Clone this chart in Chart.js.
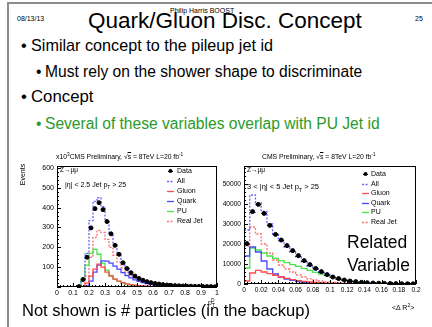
<!DOCTYPE html>
<html><head><meta charset="utf-8">
<script src="https://cdn.jsdelivr.net/npm/chart.js@4.4.1/dist/chart.umd.min.js"></script>
<style>
html,body{margin:0;padding:0;background:#fff}
body{width:432px;height:327px;position:relative;overflow:hidden;font-family:"Liberation Sans",Arial,sans-serif;color:#000}
.t{position:absolute;white-space:nowrap;line-height:1}
#frame{position:absolute;left:7px;top:2px;width:440px;height:340px;border-left:2px solid #8c8c8c;border-top:2px solid #8c8c8c}
canvas{position:absolute}
sub,sup{font-size:70%;line-height:0}
</style></head><body>
<div id="frame"></div>
<canvas id="cL" width="228" height="165" style="left:0px;top:150px;width:228px;height:165px"></canvas>
<canvas id="cR" width="217" height="165" style="left:215px;top:150px;width:217px;height:165px"></canvas>
<script>
// ---------------- data ----------------
const leftLabels = ["Data", "All", "Gluon", "Quark", "PU", "Real Jet"];
const leftBinStart = 0, leftBinWidth = 0.025;
const leftData    = [null,null,null,null,null,2,38,150,298,395,425,390,330,268,210,165,122,93,72,55,43,34,27,22,18,15,12,10,8,7,6,5,4,4,3,3,2,2,2,1];
const leftAll     = [0,0,0,0,0,2,35,170,335,432,450,405,335,270,212,162,122,92,70,53,41,32,25,20,16,13,11,9,7,6,5,4,3,3,2,2,2,1,1,1];
const leftGluon   = [0,0,0,0,0,0,2,20,55,90,115,100,75,55,40,30,22,16,12,9,7,5,4,3,2,2,1,1,1,0,0,0,0,0,0,0,0,0,0,0];
const leftQuark   = [0,0,0,0,0,0,0,5,30,75,110,132,130,120,105,90,72,58,46,36,28,22,17,13,10,8,6,5,4,3,3,2,2,1,1,1,1,0,0,0];
const leftPU      = [0,0,0,0,0,2,35,110,170,190,165,120,85,58,40,28,20,14,10,7,5,4,3,2,2,1,1,1,0,0,0,0,0,0,0,0,0,0,0,0];
const leftRealJet = [0,0,0,0,0,0,8,55,150,250,285,275,240,200,160,125,97,75,58,45,35,28,22,18,14,12,10,8,7,6,5,4,3,3,2,2,2,1,1,1];

const rightBinStart = 0, rightBinWidth = 0.2/30;
const rightData    = [20200,36200,39800,35300,29300,24800,22000,19200,16700,14200,11700,9700,7800,6200,4700,3500,2700,2000,1500,1200,850,650,500,400,300,250,200,150,120,100];
const rightAll     = [27000,44500,40500,36300,30000,25000,21500,18500,15800,13300,11000,9000,7300,5800,4500,3400,2600,2000,1500,1100,850,650,500,400,300,250,200,150,120,100];
const rightGluon   = [1500,5500,6800,6000,5200,4300,3500,2800,2200,1700,1300,1000,800,600,450,350,250,200,150,100,80,60,40,30,20,15,10,10,5,5];
const rightQuark   = [14000,18500,16000,11500,7500,5000,3500,2500,1800,1200,800,600,400,300,200,150,100,80,60,40,30,20,15,10,10,5,5,0,0,0];
const rightPU      = [8000,18000,17000,15500,14000,12800,11700,10700,9700,8800,7800,6800,5800,5000,4200,3400,2700,2100,1600,1200,900,700,500,380,280,200,150,110,80,60];
const rightRealJet = [19000,28500,25000,20000,15500,12000,9500,7500,6000,4500,3500,2600,2000,1500,1100,800,600,450,350,250,200,150,100,80,60,50,40,30,20,20];

const leftXTicks = [0,0.1,0.2,0.3,0.4,0.5,0.6,0.7,0.8,0.9,1];
const leftYTicks = [100,200,300,400,500,600];
const rightXTicks = [0,0.02,0.04,0.06,0.08,0.1,0.12,0.14,0.16,0.18,0.2];
const rightYTicks = [0,10000,20000,30000,40000,50000];

// ---------------- helpers ----------------
function histPts(start, w, vals){
  const p = vals.map((v,i)=>({x:start+i*w, y:v}));
  p.push({x:start+vals.length*w, y:vals[vals.length-1]});
  return p;
}
function ctrPts(start, w, vals){ return vals.map((v,i)=>({x:start+(i+0.5)*w, y:v})); }

const COL = {all:'#6464ff', gluon:'#ff4b4b', quark:'#4848ff', pu:'#48e448', real:'#ff6e6e'};

function makeDatasets(labels, start, w, d, all, gl, qk, pu, rj){
  const line = (lab, vals, c, dash) => ({label:lab, data:histPts(start,w,vals), borderColor:c, borderWidth:1.3,
     borderDash:dash||[], stepped:true, pointRadius:0, fill:false, order:1});
  return [
    {label:labels[0], data:ctrPts(start,w,d), showLine:false, pointRadius:2, pointBackgroundColor:'#000',
     pointBorderColor:'#000', borderColor:'#000', isData:true, halfW:w/2, order:0},
    line(labels[1], all, COL.all, [2,1.5]),
    line(labels[2], gl, COL.gluon),
    line(labels[3], qk, COL.quark),
    line(labels[4], pu, COL.pu),
    line(labels[5], rj, COL.real, [2,1.5])
  ];
}

const rootPlugin = {
  id:'rootStyle',
  afterDatasetsDraw(chart, args, o){
    const {ctx, chartArea:a, scales:{x,y}} = chart;
    ctx.save();
    chart.data.datasets.forEach((ds,i)=>{
      if(!ds.isData) return;
      ctx.strokeStyle='#000'; ctx.lineWidth=1;
      ds.data.forEach(p=>{
        if(p.y==null) return;
        const py = Math.round(y.getPixelForValue(p.y))+0.5;
        ctx.beginPath();
        ctx.moveTo(x.getPixelForValue(p.x-ds.halfW), py);
        ctx.lineTo(x.getPixelForValue(p.x+ds.halfW), py);
        ctx.stroke();
      });
    });
    ctx.strokeStyle='#000'; ctx.lineWidth=1;
    ctx.strokeRect(a.left+0.5, a.top+0.5, a.right-a.left-1, a.bottom-a.top-1);
    ctx.beginPath();
    for(let v=x.min; v<=x.max+1e-9; v+=o.xMinor){
      const major = Math.abs(v/o.xMajor-Math.round(v/o.xMajor))<1e-6;
      const px = Math.round(x.getPixelForValue(v))+0.5;
      ctx.moveTo(px, a.bottom); ctx.lineTo(px, a.bottom-(major?4:2));
    }
    for(let v=y.min; v<=y.max+1e-9; v+=o.yMinor){
      const major = Math.abs(v/o.yMajor-Math.round(v/o.yMajor))<1e-6;
      const py = Math.round(y.getPixelForValue(v))+0.5;
      ctx.moveTo(a.left, py); ctx.lineTo(a.left+(major?4:2), py);
    }
    ctx.stroke();
    ctx.restore();
  },
  afterDraw(chart, args, o){
    const {ctx, chartArea:a} = chart;
    ctx.save();
    ctx.font = o.legFont;
    ctx.textBaseline='middle'; ctx.fillStyle='#000';
    chart.data.datasets.forEach((ds,i)=>{
      const yy = a.top + o.legY + i*o.legDy;
      const x0 = a.left + o.legX, x1 = x0 + o.legLen;
      if(ds.isData){
        ctx.strokeStyle='#000'; ctx.lineWidth=1;
        ctx.beginPath(); ctx.moveTo(x0+1, Math.round(yy)+0.5); ctx.lineTo(x1-1, Math.round(yy)+0.5); ctx.stroke();
        ctx.beginPath(); ctx.arc((x0+x1)/2, yy, 2, 0, Math.PI*2); ctx.fill();
      } else {
        ctx.strokeStyle=ds.borderColor; ctx.lineWidth=1.3; ctx.setLineDash(ds.borderDash);
        ctx.beginPath(); ctx.moveTo(x0, Math.round(yy)+0.5); ctx.lineTo(x1, Math.round(yy)+0.5); ctx.stroke();
        ctx.setLineDash([]);
      }
      ctx.fillText(ds.label, a.left + o.legText, yy);
    });
    ctx.restore();
  }
};

const FONT = '"Liberation Sans", Arial, sans-serif';
Chart.defaults.font.family = FONT;
Chart.defaults.color = '#000';

function makeChart(id, cfg){
  return new Chart(document.getElementById(id), {
    type:'line',
    data:{datasets:cfg.datasets},
    options:{
      responsive:false, animation:false, devicePixelRatio:1,
      layout:{padding:cfg.pad},
      plugins:{legend:{display:false}, tooltip:{enabled:false}, rootStyle:cfg.root},
      scales:{
        x:{type:'linear', min:cfg.xMin, max:cfg.xMax,
           grid:{display:false, drawTicks:false}, border:{display:false},
           afterBuildTicks:s=>{s.ticks = cfg.xTicks.map(v=>({value:v}));},
           afterFit:s=>{s.height = 12;},
           ticks:{autoSkip:false, maxRotation:0, padding:cfg.xPad, font:{size:cfg.tickSize},
                  callback:v=>String(+v.toFixed(3))}},
        y:{type:'linear', min:0, max:cfg.yMax,
           grid:{display:false, drawTicks:false}, border:{display:false},
           afterBuildTicks:s=>{s.ticks = cfg.yTicks.map(v=>({value:v}));},
           afterFit:s=>{s.width = cfg.yWidth;},
           ticks:{padding:3, font:{size:cfg.tickSize}, callback:v=>String(v)}}
      }
    },
    plugins:[rootPlugin]
  });
}

makeChart('cL', {
  datasets: makeDatasets(leftLabels, leftBinStart, leftBinWidth, leftData, leftAll, leftGluon, leftQuark, leftPU, leftRealJet),
  pad:{left:0, right:11, top:16, bottom:16}, yWidth:57,
  xMin:0, xMax:1, yMax:610, xTicks:leftXTicks, yTicks:leftYTicks, tickSize:7, xPad:2,
  root:{xMajor:0.1, xMinor:0.02, yMajor:100, yMinor:20, legFont:'7px '+FONT, legX:110, legLen:7, legText:120, legY:5, legDy:10}
});
makeChart('cR', {
  datasets: makeDatasets(leftLabels, rightBinStart, rightBinWidth, rightData, rightAll, rightGluon, rightQuark, rightPU, rightRealJet),
  pad:{left:0, right:16, top:16, bottom:19}, yWidth:29,
  xMin:0, xMax:0.2, yMax:59000, xTicks:rightXTicks, yTicks:rightYTicks, tickSize:6.6, xPad:2,
  root:{xMajor:0.02, xMinor:0.004, yMajor:10000, yMinor:2000, legFont:'7px '+FONT, legX:118, legLen:7, legText:127, legY:8, legDy:9.6}
});

// ---------------- slide text ----------------
function put(html, x, cy, size, style){
  const d = document.createElement('div');
  d.className='t'; d.innerHTML = html;
  d.style.left = x+'px'; d.style.top = (cy - 0.53*size)+'px'; d.style.fontSize = size+'px';
  if(style) d.setAttribute('style', d.getAttribute('style')+';'+style);
  document.body.appendChild(d); return d;
}
put('08/13/13', 17, 19, 7);
put('Philip Harris BOOST', 170, 11, 7);
put('25', 415, 19, 7);
put('Quark/Gluon Disc. Concept', 88, 22, 22.5);
put('•', 21, 46, 16.2); put('Similar concept to the pileup jet id', 31, 46, 16.2);
put('•', 36, 72, 15.6); put('Must rely on the shower shape to discriminate', 45, 72, 15.6);
put('•', 21, 98, 16.8); put('Concept', 31, 98, 16.8);
put('•', 36, 124, 15.6, 'color:#2a9a2a'); put('Several of these variables overlap with PU Jet id', 45, 124, 15.6, 'color:#2a9a2a');
put('Not shown is # particles (in the backup)', 22, 311, 16.5);

put('x10<sup>3</sup>CMS Preliminary, √<span style="text-decoration:overline">s</span> = 8TeV L=20 fb<sup>-1</sup>', 56, 158, 6.8);
put('CMS Preliminary, √<span style="text-decoration:overline">s</span> = 8TeV L=20 fb<sup>-1</sup>', 262, 158, 6.8);
put('Z→μμ', 60, 170, 6.5);
put('|η| &lt; 2.5 Jet p<sub>T</sub> &gt; 25', 65, 185, 7);
put('Z→μμ', 247, 170, 6.5);
put('3 &lt; |η| &lt; 5 Jet p<sub>T</sub> &gt; 25', 247, 187, 7.5);
put('Related', 347, 243, 17.5);
put('Variable', 347, 266, 17.5);
put('p<sub>T</sub><sup style="margin-left:-4px">D</sup>', 208, 303, 7);
put('&lt;Δ R<sup>2</sup>&gt;', 392, 308, 7);
put('Events', 22, 175, 7, 'transform:translate(-50%,0) rotate(-90deg);transform-origin:50% 50%');
</script>
</body></html>
